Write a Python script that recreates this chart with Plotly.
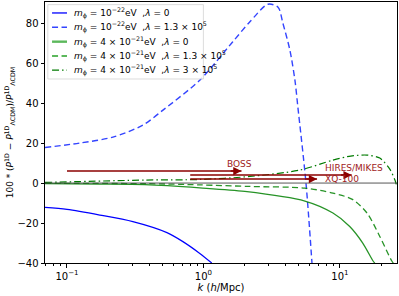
import numpy as np
import plotly.graph_objects as go

# ---- data ----
k_b0 = [0.069, 0.1, 0.174, 0.304, 0.54, 0.707, 0.94, 1.15]
y_b0 = [-12.2, -13.2, -16.0, -19.3, -24.8, -29.3, -35.2, -40.0]

k_b1 = [0.069, 0.124, 0.217, 0.36, 0.505, 0.94, 1.64, 2.19, 2.97, 3.52, 3.82, 4.30, 4.68, 4.92, 5.64, 6.24]
y_b1 = [17.8, 20.0, 23.0, 29.0, 36.5, 51.5, 70.7, 80.7, 89.5, 88.0, 80.0, 66.5, 51.5, 38.0, 0.0, -40.0]

k_g0 = [0.069, 0.174, 0.372, 0.94, 2.01, 5.54, 8.89, 11.8, 14.7, 17.5, 18.0]
y_g0 = [-0.3, -0.5, -0.8, -2.4, -4.2, -9.0, -15.0, -21.7, -30.0, -39.0, -40.0]

k_g1 = [0.069, 0.372, 0.94, 2.19, 5.54, 8.89, 12.45, 15.8, 19.6, 24.0, 25.3]
y_g1 = [-0.2, -0.3, -0.9, -1.7, -2.5, -5.0, -8.3, -15.0, -26.7, -39.0, -41.0]

k_g2 = [0.069, 0.372, 0.94, 2.19, 5.09, 8.89, 12.0, 15.8, 19.6, 23.2, 25.3, 26.2]
y_g2 = [0.3, 1.5, 1.8, 3.3, 6.5, 11.5, 13.5, 14.0, 12.5, 7.0, 1.5, -2.0]

names = [
    "<i>m</i><sub>ϕ</sub> = 10<sup>−22</sup>eV  ,<i>λ</i> = 0",
    "<i>m</i><sub>ϕ</sub> = 10<sup>−22</sup>eV  ,<i>λ</i> = 1.3 × 10<sup>5</sup>",
    "<i>m</i><sub>ϕ</sub> = 4 × 10<sup>−21</sup>eV  ,<i>λ</i> = 0",
    "<i>m</i><sub>ϕ</sub> = 4 × 10<sup>−21</sup>eV  ,<i>λ</i> = 1.3 × 10<sup>5</sup>",
    "<i>m</i><sub>ϕ</sub> = 4 × 10<sup>−21</sup>eV  ,<i>λ</i> = 3 × 10<sup>5</sup>",
]

# survey k-ranges (arrows)
surveys = ["BOSS", "HIRES/MIKES", "XQ-100"]
survey_kmin = [0.1, 0.8, 0.8]
survey_kmax = [1.9, 12.2, 6.8]
survey_level = [6.0, 4.0, 2.0]
label_k = [1.85, 7.5, 7.5]
label_y = [9.7, 7.4, 2.1]
label_anchor = ["center", "left", "left"]

x_ticks = [0.1, 1, 10]
x_ticktext = ["10<sup>−1</sup>", "10<sup>0</sup>", "10<sup>1</sup>"]
x_minor = [0.07, 0.08, 0.09, 0.2, 0.3, 0.4, 0.5, 0.6, 0.7, 0.8, 0.9,
           2, 3, 4, 5, 6, 7, 8, 9, 20]
y_ticks = [-40, -20, 0, 20, 40, 60, 80]

DASH = "6px,3.5px"
DASHDOT = "7px,3px,1.5px,3px"

# ---- figure ----
fig = go.Figure()
series = [
    (k_b0, y_b0, "#0000ff", "solid", 1.2),
    (k_b1, y_b1, "#3344ff", DASH, 1.4),
    (k_g0, y_g0, "rgba(0,128,0,0.85)", "solid", 1.3),
    (k_g1, y_g1, "rgba(0,128,0,0.85)", DASH, 1.3),
    (k_g2, y_g2, "#007a00", DASHDOT, 1.2),
]
# legend sample styles (as in the reference legend)
legend_styles = [
    ("#0000ff", "solid", 1.3),
    ("#3344ff", DASH, 1.4),
    ("#5cb85c", "solid", 2.4),
    ("#5cb85c", DASH, 2.0),
    ("#007a00", DASHDOT, 1.3),
]
for (kx, yy, c, d, w), nm in zip(series, names):
    fig.add_trace(go.Scatter(x=kx, y=yy, mode="lines", name=nm, showlegend=False,
                             line=dict(color=c, dash=d, width=w, shape="spline", smoothing=0.8)))

fig.add_hline(y=0, line=dict(color="#444444", width=0.9))

for s, kmin, kmax, lev in zip(surveys, survey_kmin, survey_kmax, survey_level):
    fig.add_trace(go.Scatter(x=[kmin, kmax], y=[lev, lev], mode="lines",
                             line=dict(color="#8b0000", width=1.5), showlegend=False))
    fig.add_annotation(x=np.log10(kmax), y=lev, ax=np.log10(kmax) - 0.09, ay=lev,
                       xref="x", yref="y", axref="x", ayref="y", text="",
                       showarrow=True, arrowhead=2, arrowsize=1.1, arrowwidth=1.5,
                       arrowcolor="#8b0000")
for s, lk, ly, anc in zip(surveys, label_k, label_y, label_anchor):
    fig.add_annotation(x=np.log10(lk), y=ly, text=s, showarrow=False,
                       xanchor=anc, yanchor="middle",
                       font=dict(size=9, color="#a01a1a"))

# ---- hand-built legend (matplotlib-like compact spacing) ----
fig.add_shape(type="rect", xref="paper", yref="paper", x0=0.008, x1=0.45, y0=0.705, y1=0.99,
              line=dict(color="rgba(200,200,200,0.8)", width=0.8),
              fillcolor="rgba(255,255,255,0.8)", layer="above")
row_y = [0.958, 0.903, 0.848, 0.793, 0.739]
for (c, d, w), nm, ry in zip(legend_styles, names, row_y):
    fig.add_shape(type="line", xref="paper", yref="paper", x0=0.02, x1=0.0625, y0=ry, y1=ry,
                  line=dict(color=c, dash=d, width=w), layer="above")
    fig.add_annotation(xref="paper", yref="paper", x=0.077, y=ry, text=nm, showarrow=False,
                       xanchor="left", yanchor="middle", font=dict(size=9))

fig.update_xaxes(type="log", range=[np.log10(0.069), np.log10(26.2)],
                 tickvals=x_ticks, ticktext=x_ticktext, automargin=False,
                 ticks="outside", ticklen=3.5, tickcolor="black",
                 minor=dict(tickvals=x_minor, ticks="outside", ticklen=2, tickcolor="black"),
                 showgrid=False, zeroline=False, showline=True, linecolor="black",
                 linewidth=1, mirror=True,
                 title=dict(text="<i>k</i> (<i>h</i>/Mpc)", font=dict(size=10), standoff=2))
fig.update_yaxes(range=[-40, 90.6], tickvals=y_ticks, automargin=False,
                 ticktext=[str(v).replace("-", "−") for v in y_ticks],
                 ticks="outside", ticklen=3.5, tickcolor="black",
                 showgrid=False, zeroline=False, showline=True, linecolor="black",
                 linewidth=1, mirror=True,
                 title=dict(text="100 * (<i>P</i><sup>1D</sup> − <i>P</i><sup>1D</sup><sub>ΛCDM</sub>)/<i>P</i><sup>1D</sup><sub>ΛCDM</sub>",
                            font=dict(size=9), standoff=2))

fig.update_layout(
    width=399, height=296,
    margin=dict(l=45, r=2, t=2, b=33),
    plot_bgcolor="white", paper_bgcolor="white",
    font=dict(family="DejaVu Sans", size=10, color="black"),
    showlegend=False,
)

fig.write_html("out.html", config={"displayModeBar": False},
               post_script="document.body.style.margin='0';")
